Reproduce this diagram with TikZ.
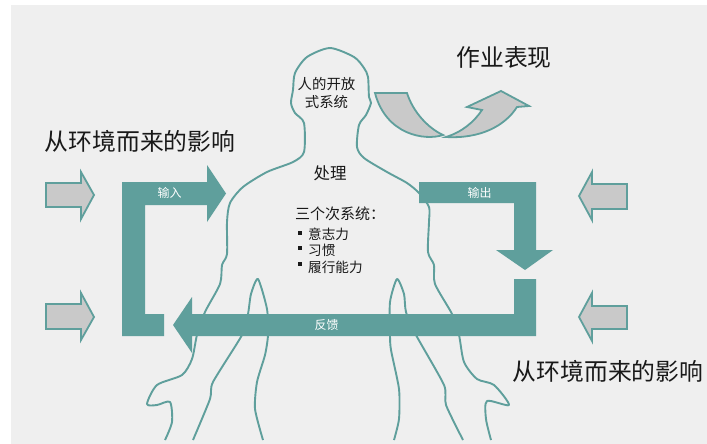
\documentclass[tikz,border=0pt]{standalone}
\usepackage{fontspec}
\setmainfont{Noto Sans CJK SC}
\definecolor{teal1}{HTML}{5F9F9C}
\definecolor{bg1}{HTML}{EFEFEF}
\definecolor{gray1}{HTML}{C9C9C9}
\tikzset{
  bodyline/.style={draw=teal1,line width=1.9pt,line join=round},
  bar/.style={fill=teal1,draw=none},
  grayarrow/.style={fill=gray1,draw=teal1,line width=1.8pt,line join=miter},
  bigtext/.style={inner sep=0pt,font=\fontsize{23.8}{26}\selectfont,text=black!90},
  midtext/.style={inner sep=0pt,font=\fontsize{14.4}{17}\selectfont,text=black!90},
  proctext/.style={inner sep=0pt,font=\fontsize{16.5}{19}\selectfont,text=black!90},
  systext/.style={inner sep=0pt,font=\fontsize{15}{18}\selectfont,text=black!90},
  smalltext/.style={inner sep=0pt,font=\fontsize{13.6}{16}\selectfont,text=black!90},
  barlabel/.style={inner sep=0pt,font=\fontsize{12}{14}\selectfont,text=white},
  bulletdot/.style={fill=black!90,draw=none,minimum size=4.5pt,inner sep=0pt}
}
\begin{document}
\begin{tikzpicture}[x=1pt,y=-1pt]
\useasboundingbox (0,0) rectangle (707,444);
\fill[white] (0,0) rectangle (707,444);
\fill[bg1] (11,5) rectangle (707,444);
% body
\draw[bodyline] plot[smooth,tension=0.45] coordinates {(165,440) (172,422) (170,402) (157,405) (147,404) (157,385) (182,375) (192,359) (197,335) (205,312) (220,284) (222,265) (227,254) (227,222) (230,203) (243,187) (267,172) (293,162) (304,152) (304,123) (295,113) (291,103) (293,90) (295,73) (307,57) (330,48) (354,57) (364,68) (368,77) (369,97) (371,103) (366,115) (359,125) (357,147) (364,158) (387,172) (407,183) (419,193) (429,207) (429,222) (428,252) (434,265) (435,284) (452,314) (459,335) (464,362) (477,379) (494,385) (509,405) (487,401) (486,419) (491,440)};
\draw[bodyline] plot[smooth,tension=0.4] coordinates {(193,440) (210,399) (213,382) (242,335) (248,314) (251,294) (258,279) (267,309) (268,335) (265,355) (257,382) (255,409) (263,440)};
\draw[bodyline] plot[smooth,tension=0.4] coordinates {(463,440) (446,405) (444,385) (416,335) (406,312) (404,294) (397,279) (390,302) (390,335) (391,350) (399,389) (399,419) (394,440)};
% gray straight arrows
\draw[grayarrow] (46,183)--(81,183)--(81,172)--(94,195)--(81,219)--(81,207)--(46,207)--cycle;
\draw[grayarrow] (46,304)--(81,304)--(81,293)--(94,317)--(81,340)--(81,329)--(46,329)--cycle;
\draw[grayarrow] (627,184)--(592,184)--(592,172)--(579,196)--(592,220)--(592,209)--(627,209)--cycle;
\draw[grayarrow] (627,306)--(592,306)--(592,293)--(579,317)--(592,341)--(592,329)--(627,329)--cycle;
% curved arrow
\draw[grayarrow] (375,93)--(407,93) .. controls (413,112) and (428,128) .. (443,135) .. controls (425,141) and (386,135) .. cycle;
\draw[grayarrow] (446,137) .. controls (462,132) and (474,122) .. (482,110) -- (467,107) -- (501,91) -- (529,106) -- (517,107) .. controls (505,126) and (480,139) .. cycle;
% teal bars
\fill[bar] (122,182)--(207,182)--(207,165)--(226,193.5)--(207,222)--(207,205)--(145,205)--(145,314)--(164,314)--(164,336)--(122,336)--cycle;
\fill[bar] (419,182)--(536,182)--(536,250)--(553,250)--(525,270)--(496,250)--(514,250)--(514,203)--(419,203)--cycle;
\fill[bar] (536,279)--(536,336)--(192,336)--(192,353)--(173,325)--(192,297)--(192,314)--(514,314)--(514,279)--cycle;
% texts
\node[bigtext] (t1) at (140,141) {从环境而来的影响};
\node[bigtext] (t2) at (608,371) {从环境而来的影响};
\node[bigtext] (t3) at (504,57) {作业表现};
\node[midtext] (h1) at (326.5,84) {人的开放};
\node[midtext] (h2) at (326.5,102) {式系统};
\node[proctext] (p) at (330,173.5) {处理};
\node[systext,anchor=west] (s) at (295,214) {三个次系统：};
\node[bulletdot] (b1) at (300,233) {};
\node[bulletdot] (b2) at (300,248) {};
\node[bulletdot] (b3) at (300,264) {};
\node[smalltext,anchor=west] (i1) at (308,234) {意志力};
\node[smalltext,anchor=west] (i2) at (308,250) {习惯};
\node[smalltext,anchor=west] (i3) at (308,267) {履行能力};
\node[barlabel] (l1) at (169.5,193) {输入};
\node[barlabel] (l2) at (479.5,193) {输出};
\node[barlabel] (l3) at (326.5,325) {反馈};
\end{tikzpicture}
\end{document}
